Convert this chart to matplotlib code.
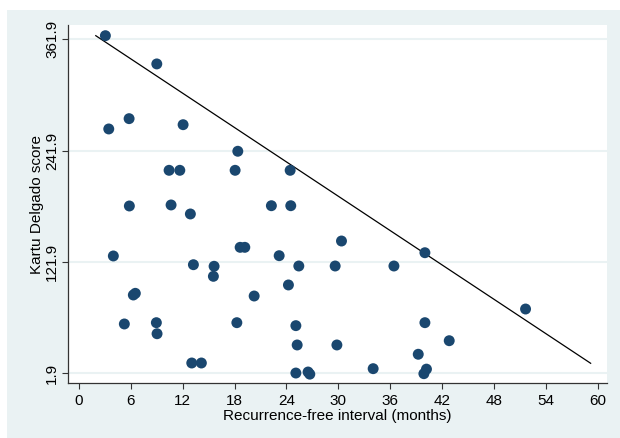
import matplotlib
matplotlib.use("Agg")
import matplotlib.pyplot as plt
from matplotlib.patches import Rectangle

# Data
rfi_months = [3.08, 9.02, 5.82, 3.47, 12.06, 18.38, 10.44, 11.68, 18.07, 24.43,
              5.85, 10.67, 12.9, 22.26, 24.5, 4.0, 18.65, 19.19, 13.25, 15.64,
              15.56, 6.31, 6.54, 5.27, 8.97, 9.05, 18.27, 13.06, 14.17, 30.36,
              23.16, 25.43, 29.63, 36.42, 24.23, 20.27, 25.09, 25.24, 29.83, 25.09,
              26.5, 26.7, 34.02, 39.23, 40.0, 40.0, 39.88, 40.18, 51.63, 42.81]
kd_score = [365.5, 335.1, 276.2, 265.1, 269.7, 241.1, 220.6, 220.6, 220.6, 220.6,
            182.2, 183.3, 173.6, 182.5, 182.5, 128.4, 137.7, 137.7, 119.0, 117.3,
            106.5, 86.4, 88.2, 55.2, 56.6, 44.7, 56.6, 13.2, 13.2, 144.5,
            128.7, 117.6, 117.6, 117.6, 97.2, 85.3, 53.4, 32.6, 32.6, 2.4,
            3.5, 1.2, 7.1, 22.6, 56.6, 131.9, 1.7, 6.6, 71.3, 37.2]
line_x = [1.97, 59.15]
line_y = [365.5, 12.9]
x_ticks = [0, 6, 12, 18, 24, 30, 36, 42, 48, 54, 60]
y_ticks = [1.9, 121.9, 241.9, 361.9]
y_ticklabels = ["1.9", "121.9", "241.9", "361.9"]

W, H = 620, 438
fig = plt.figure(figsize=(W / 100, H / 100), dpi=100, facecolor="white")
plt.rcParams['font.family'] = ['Liberation Sans', 'DejaVu Sans']

bg = "#EAF2F3"
rect = Rectangle((7 / W, 0), 1 - 7 / W, 1 - 10 / H,
                 transform=fig.transFigure, facecolor=bg,
                 edgecolor="none", zorder=-10)
fig.add_artist(rect)

ax = fig.add_axes([68 / W, 1 - 383 / H, (607 - 68) / W, (383 - 25) / H])
ax.set_zorder(5)
ax.set_facecolor("white")
ax.set_xlim(-1.24, 61.04)
ax.set_ylim(-8.33, 377.0)

for yv in y_ticks:
    ax.axhline(yv, color=bg, lw=1.5, zorder=1)

ax.plot(line_x, line_y, color="black", lw=0.9, zorder=2)
ax.scatter(rfi_months, kd_score, s=62, color="#1A476F", edgecolors="none", zorder=3)

fs = 11
ax.set_xticks(x_ticks)
ax.set_xticklabels([str(v) for v in x_ticks], fontsize=fs)
ax.set_yticks(y_ticks)
ax.set_yticklabels(y_ticklabels, fontsize=fs, rotation=90, va="center")
ax.tick_params(axis="both", direction="out", length=4.5, width=0.8, color="#333333")
ax.tick_params(axis="x", pad=3.5)
ax.tick_params(axis="y", pad=2)

for s in ["top", "right"]:
    ax.spines[s].set_visible(False)
for s in ["left", "bottom"]:
    ax.spines[s].set_color("#333333")
    ax.spines[s].set_linewidth(0.9)

ax.set_xlabel("Recurrence-free interval (months)", fontsize=fs, labelpad=0.3)
ax.set_ylabel("Kartu Delgado score", fontsize=fs, labelpad=0.5)

fig.savefig("out.png", dpi=100, facecolor="white")
